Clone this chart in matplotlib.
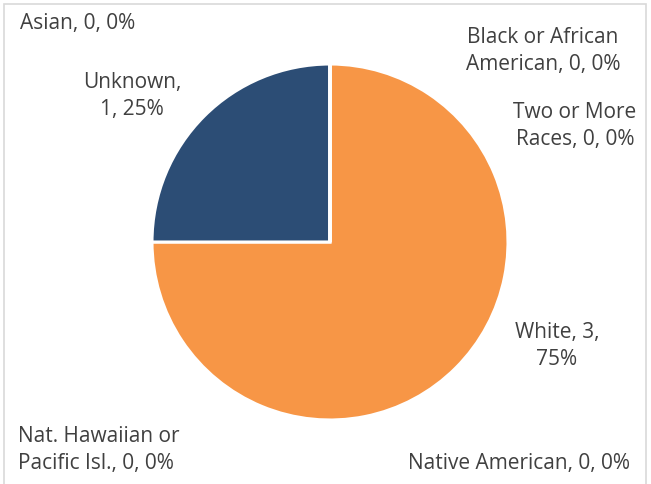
import matplotlib.pyplot as plt
from matplotlib.patches import Rectangle

plt.rcParams['font.family'] = ['Open Sans', 'DejaVu Sans']

categories = ['White', 'Unknown', 'Asian', 'Black or African American',
              'Two or More Races', 'Native American', 'Nat. Hawaiian or Pacific Isl.']
counts = [3, 1, 0, 0, 0, 0, 0]
colors = ['#F79646', '#2C4D75', '#4F81BD', '#C0504D', '#9BBB59', '#8064A2', '#4BACC6']

# label text as shown on the chart, with its place in pixels (x, y from top)
label_text = ['White, 3,\n75%', 'Unknown,\n1, 25%', 'Asian, 0, 0%',
              'Black or African\nAmerican, 0, 0%', 'Two or More\nRaces, 0, 0%',
              'Native American, 0, 0%', 'Nat. Hawaiian or\nPacific Isl., 0, 0%']
label_pos = [(557, 346, 'center'), (132, 96, 'center'), (20, 24, 'left'),
             (543, 51, 'center'), (575, 126, 'center'),
             (519, 463, 'center'), (18, 450, 'left')]

W, H = 651, 484
fig = plt.figure(figsize=(W / 100, H / 100), dpi=100)

cx, cy, r = 330, 242, 178
ax = fig.add_axes([(cx - r) / W, (H - cy - r) / H, 2 * r / W, 2 * r / H])
ax.pie(counts, colors=colors, startangle=90, counterclock=False,
       wedgeprops=dict(edgecolor='white', linewidth=2.2))
ax.set_xlim(-1, 1)
ax.set_ylim(-1, 1)
ax.set_aspect('equal')
ax.axis('off')

for txt, (x, y, ha) in zip(label_text, label_pos):
    fig.text(x / W, 1 - y / H, txt, ha=ha, va='center', fontsize=15,
             color='#404040', linespacing=1.4)

fig.patches.append(Rectangle((4 / W, -0.01), (W - 9) / W, 1 - 4 / H + 0.01,
                             transform=fig.transFigure, fill=False,
                             edgecolor='#D9D9D9', linewidth=1.2))

fig.savefig('out.png', dpi=100, facecolor='white')
